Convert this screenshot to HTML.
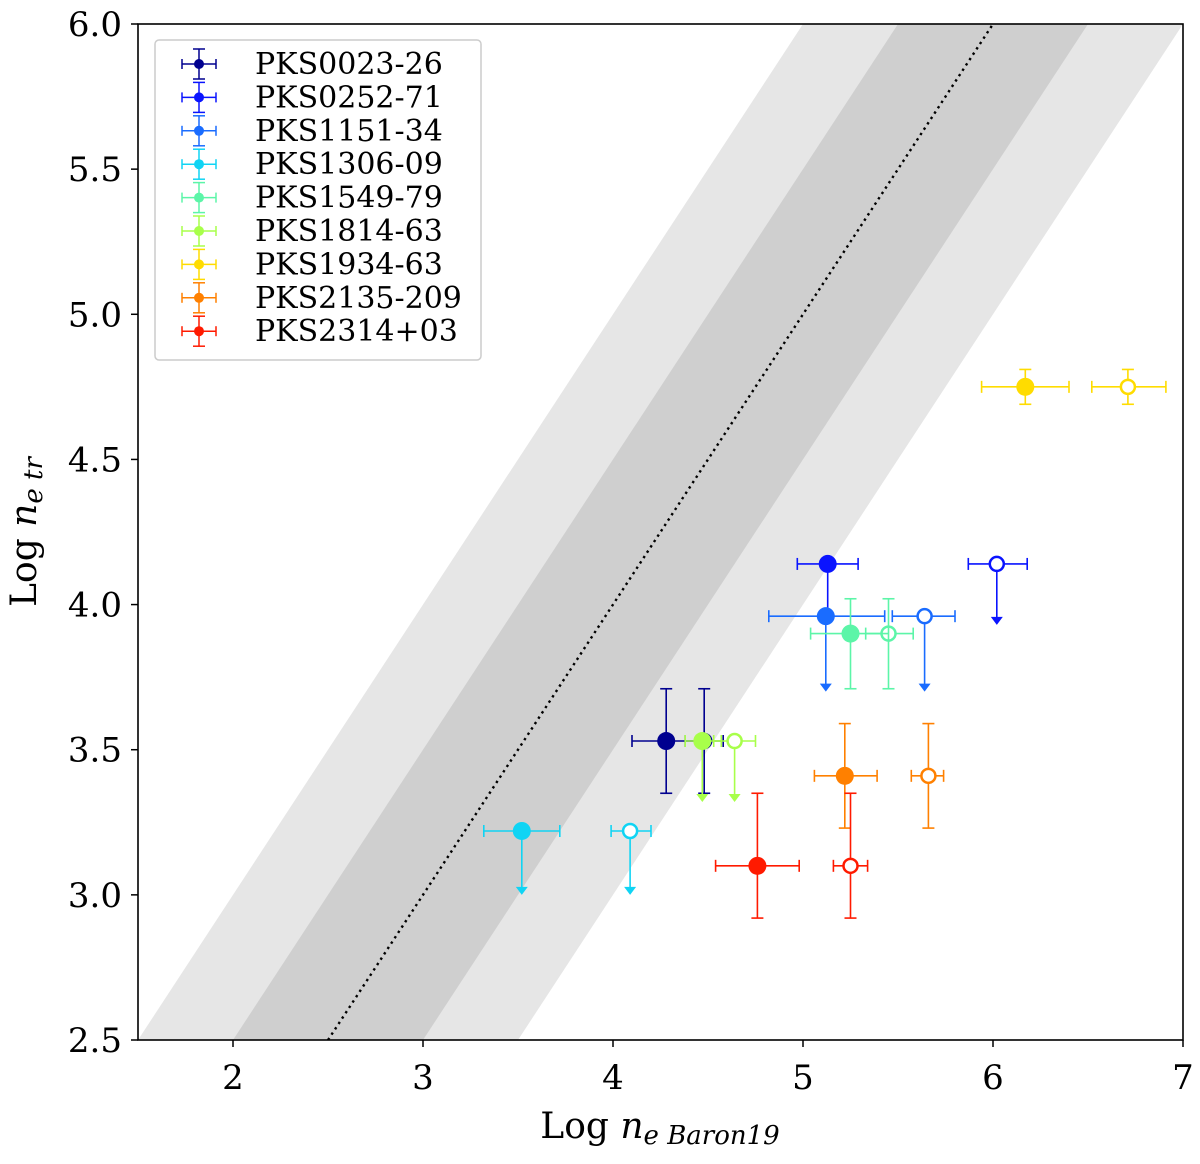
<!DOCTYPE html>
<html><head><meta charset="utf-8"><style>
body{margin:0;background:#fff;}
svg text{font-family:"DejaVu Serif","Liberation Serif",serif;fill:#000;}
</style></head><body>
<svg id="chart" width="1200" height="1159" xmlns="http://www.w3.org/2000/svg">
<defs><clipPath id="clip"><rect x="138" y="24" width="1045" height="1016"/></clipPath></defs>
<g id="bands" clip-path="url(#clip)"></g>
<g id="marks" clip-path="url(#clip)"></g>
<rect x="138" y="24" width="1045" height="1016" fill="none" stroke="#000" stroke-width="1.6"/>
<g id="axes"></g>
<text x="660" y="1138" font-size="36" text-anchor="middle">Log <tspan font-style="italic">n</tspan><tspan font-style="italic" font-size="26" dy="6">e Baron19</tspan></text>
<text transform="translate(36,532) rotate(-90)" font-size="36" text-anchor="middle">Log <tspan font-style="italic">n</tspan><tspan font-style="italic" font-size="26" dy="6">e tr</tspan></text>
<g id="legend"></g>
</svg>
<script>
const names=["PKS0023-26","PKS0252-71","PKS1151-34","PKS1306-09","PKS1549-79","PKS1814-63","PKS1934-63","PKS2135-209","PKS2314+03"];
const colors=["#00008f","#0a14ff","#1a6cff","#10d4f4","#5cf5a8","#a8ff4a","#ffdc00","#ff8000","#ff1a00"];
const yVals=[3.53,4.14,3.96,3.22,3.90,3.53,4.75,3.41,3.10];
const yLo=[3.35,null,null,null,3.71,null,4.69,3.23,2.92];
const yHi=[3.71,null,null,null,4.02,null,4.81,3.59,3.35];
const arrowTo=[null,3.93,3.70,3.00,null,3.32,null,null,null];
const xFilled=[4.28,5.13,5.12,3.52,5.25,4.47,6.17,5.22,4.76];
const xFilledLo=[4.10,4.97,4.82,3.32,5.04,4.38,5.94,5.06,4.54];
const xFilledHi=[4.45,5.29,5.43,3.72,5.45,4.57,6.40,5.39,4.98];
const xOpen=[4.48,6.02,5.64,4.09,5.45,4.64,6.71,5.66,5.25];
const xOpenLo=[4.38,5.87,5.47,3.99,5.33,4.53,6.52,5.57,5.16];
const xOpenHi=[4.58,6.18,5.80,4.20,5.58,4.75,6.91,5.74,5.34];
const xTicks=[2,3,4,5,6,7];
const yTicks=[2.5,3.0,3.5,4.0,4.5,5.0,5.5,6.0];
const X=v=>138+(v-1.5)*190, Y=v=>1040-(v-2.5)*(1016/3.5);
const NS="http://www.w3.org/2000/svg";
function mk(p,t,a){const e=document.createElementNS(NS,t);for(const k in a)e.setAttribute(k,a[k]);p.appendChild(e);return e;}
const bands=document.getElementById('bands');
function band(w,fill,name){const e=mk(bands,'polygon',{points:`${X(2.5-w)},${Y(2.5)} ${X(2.5+w)},${Y(2.5)} ${X(8+w)},${Y(8)} ${X(8-w)},${Y(8)}`,fill:fill});

}
band(1,"#e6e6e6","band-1dex");band(0.5,"#cfcfcf","band-half-dex");
const dl=mk(bands,'line',{x1:X(2.5),y1:Y(2.5),x2:X(8),y2:Y(8),stroke:"#000","stroke-width":2.4,"stroke-dasharray":"2.4,4"});


const marks=document.getElementById('marks');
function point(i,x,xl,xh,open){
 const c=colors[i],y=Y(yVals[i]);const g=mk(marks,'g',{stroke:c,"stroke-width":1.6,fill:"none"});
 
 
 mk(g,'line',{x1:X(xl),y1:y,x2:X(xh),y2:y});
 mk(g,'line',{x1:X(xl),y1:y-6,x2:X(xl),y2:y+6});mk(g,'line',{x1:X(xh),y1:y-6,x2:X(xh),y2:y+6});
 if(yLo[i]!=null){mk(g,'line',{x1:X(x),y1:Y(yLo[i]),x2:X(x),y2:Y(yHi[i])});
  mk(g,'line',{x1:X(x)-6,y1:Y(yLo[i]),x2:X(x)+6,y2:Y(yLo[i])});mk(g,'line',{x1:X(x)-6,y1:Y(yHi[i]),x2:X(x)+6,y2:Y(yHi[i])});}
 if(arrowTo[i]!=null){const ya=Y(arrowTo[i]);mk(g,'line',{x1:X(x),y1:y,x2:X(x),y2:ya-4});
  mk(g,'polygon',{points:`${X(x)-6},${ya-8} ${X(x)+6},${ya-8} ${X(x)},${ya}`,fill:c,stroke:"none"});}
 mk(g,'circle',{cx:X(x),cy:y,r:open?7:9,fill:open?"#fff":c,"stroke-width":open?2.5:0});
}
for(let i=0;i<names.length;i++){point(i,xOpen[i],xOpenLo[i],xOpenHi[i],true);point(i,xFilled[i],xFilledLo[i],xFilledHi[i],false);}
const axes=document.getElementById('axes');
xTicks.forEach(t=>{mk(axes,'line',{x1:X(t),y1:1040,x2:X(t),y2:1047,stroke:"#000","stroke-width":1.5});
 const tx=mk(axes,'text',{x:X(t),y:1089,"font-size":34,"text-anchor":"middle"});tx.textContent=t;
 
 });
yTicks.forEach(t=>{mk(axes,'line',{x1:131,y1:Y(t),x2:138,y2:Y(t),stroke:"#000","stroke-width":1.5});
 const tx=mk(axes,'text',{x:122,y:Y(t)+12,"font-size":34,"text-anchor":"end"});tx.textContent=t.toFixed(1);
 
 });
const lg=document.getElementById('legend');
const box=mk(lg,'rect',{x:155,y:40,width:326,height:320,rx:4,fill:"#fff","fill-opacity":0.85,stroke:"#ccc","stroke-width":1.5});


names.forEach((n,i)=>{const y=64+i*33.4,c=colors[i];const g=mk(lg,'g',{stroke:c,"stroke-width":1.5});
 
 
 mk(g,'line',{x1:182,y1:y,x2:216,y2:y});mk(g,'line',{x1:182,y1:y-5,x2:182,y2:y+5});mk(g,'line',{x1:216,y1:y-5,x2:216,y2:y+5});
 mk(g,'line',{x1:199,y1:y-15,x2:199,y2:y+15});mk(g,'line',{x1:193,y1:y-15,x2:205,y2:y-15});mk(g,'line',{x1:193,y1:y+15,x2:205,y2:y+15});
 mk(g,'circle',{cx:199,cy:y,r:5,fill:c,stroke:"none"});
 const t=mk(lg,'text',{x:255,y:y+10,"font-size":30});t.textContent=n;});
</script>
</body></html>
